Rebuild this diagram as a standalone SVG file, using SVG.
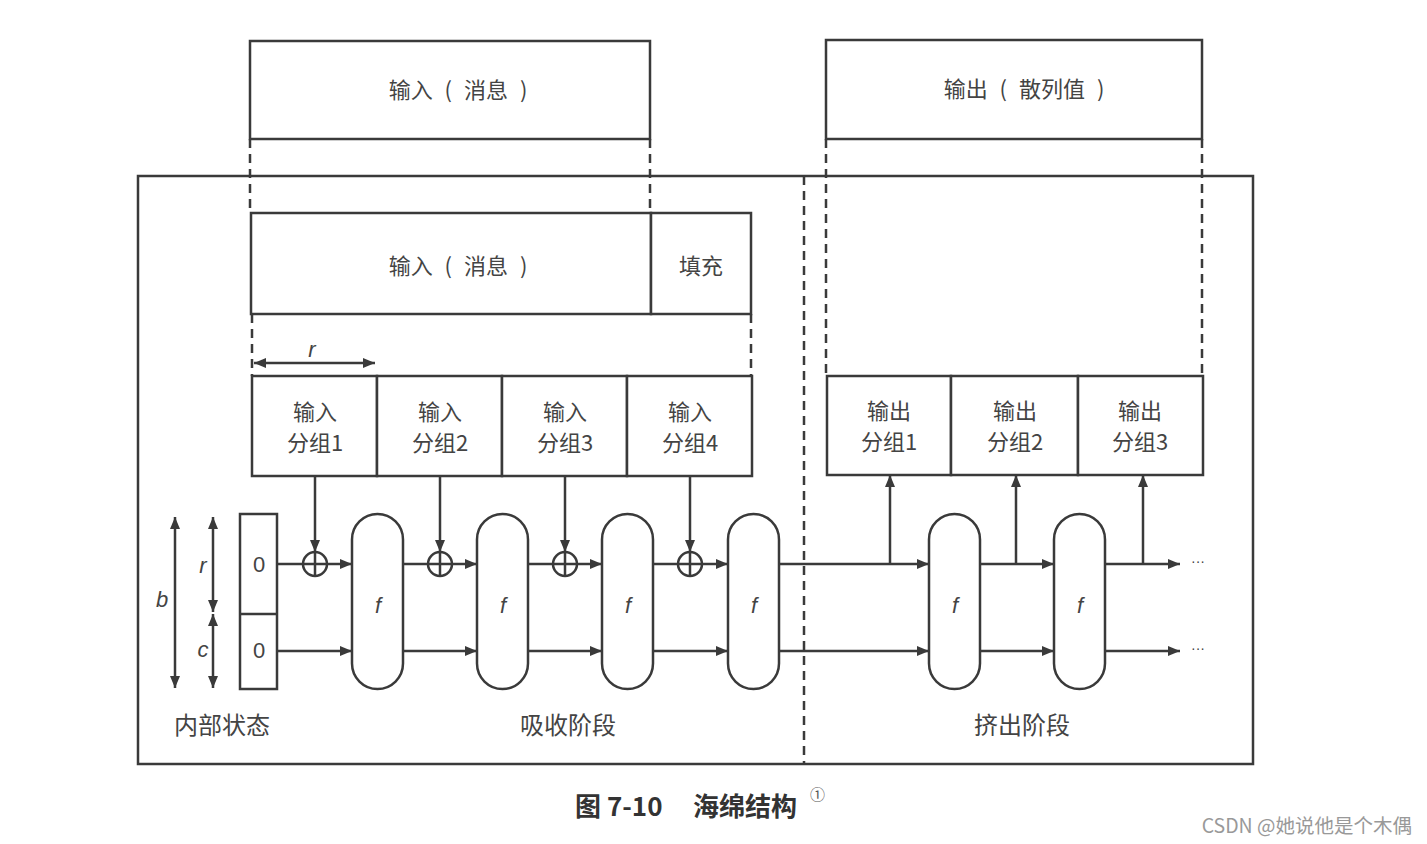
<svg xmlns="http://www.w3.org/2000/svg" width="1427" height="844" viewBox="0 0 1427 844">
<defs>
<marker id="ah" viewBox="0 0 12 10" refX="12" refY="5" markerWidth="12" markerHeight="10" markerUnits="userSpaceOnUse" orient="auto-start-reverse">
<path d="M0,0 L12,5 L0,10 Z" fill="#3a3a3a"/>
</marker>
</defs>
<style>
.ln{stroke:#3a3a3a;stroke-width:2.5;fill:none}
.bx{stroke:#3a3a3a;stroke-width:2.5;fill:#fff}
.ds{stroke:#3a3a3a;stroke-width:2.5;fill:none;stroke-dasharray:9 6}
.t{font-family:"Noto Sans CJK SC","Noto Sans",sans-serif;font-size:22px;fill:#444;text-anchor:middle}
.p{word-spacing:7px}
.it{font-family:"Liberation Sans","Noto Sans",sans-serif;font-size:22px;fill:#444;text-anchor:middle;font-style:italic}
.n{font-family:"Liberation Sans",sans-serif;font-size:22px;fill:#444;text-anchor:middle}
.ar{stroke:#3a3a3a;stroke-width:2.5;fill:none;marker-end:url(#ah)}
.ar2{stroke:#3a3a3a;stroke-width:2.5;fill:none;marker-end:url(#ah);marker-start:url(#ah)}
</style>
<rect width="1427" height="844" fill="#fff"/>

<g id="frame">
<rect x="138" y="176" width="1115" height="588" class="ln"/>
<line x1="804" y1="176" x2="804" y2="764" class="ds"/>
</g>

<g id="input-msg-top">
<rect x="250" y="41" width="400" height="98" class="bx"/>
<text x="458" y="98" class="t p">输入 ( 消息 )</text>
</g>
<g id="output-hash-top">
<rect x="826" y="40" width="376" height="99" class="bx"/>
<text x="1024" y="97" class="t p">输出 ( 散列值 )</text>
</g>

<g id="msg-padded">
<rect x="251" y="213" width="400" height="101" class="bx"/>
<text x="458" y="274" class="t p">输入 ( 消息 )</text>
<rect x="651" y="213" width="100" height="101" class="bx"/>
<text x="701" y="274" class="t">填充</text>
</g>

<g id="input-blocks">
<rect x="252" y="376" width="125" height="100" class="bx"/>
<rect x="377" y="376" width="125" height="100" class="bx"/>
<rect x="502" y="376" width="125" height="100" class="bx"/>
<rect x="627" y="376" width="125" height="100" class="bx"/>
<text x="315" y="420" class="t">输入</text><text x="315" y="451" class="t">分组1</text>
<text x="440" y="420" class="t">输入</text><text x="440" y="451" class="t">分组2</text>
<text x="565" y="420" class="t">输入</text><text x="565" y="451" class="t">分组3</text>
<text x="690" y="420" class="t">输入</text><text x="690" y="451" class="t">分组4</text>
</g>

<g id="output-blocks">
<rect x="827" y="376" width="124" height="99" class="bx"/>
<rect x="951" y="376" width="127" height="99" class="bx"/>
<rect x="1078" y="376" width="125" height="99" class="bx"/>
<text x="889" y="419" class="t">输出</text><text x="889" y="450" class="t">分组1</text>
<text x="1015" y="419" class="t">输出</text><text x="1015" y="450" class="t">分组2</text>
<text x="1140" y="419" class="t">输出</text><text x="1140" y="450" class="t">分组3</text>
</g>

<g id="state">
<rect x="240" y="514" width="37" height="175" class="bx"/>
<line x1="240" y1="614" x2="277" y2="614" class="ln"/>
<text x="259" y="572" class="n">0</text>
<text x="259" y="658" class="n">0</text>
<text x="222" y="734" class="t" style="font-size:24px">内部状态</text>
</g>

<g id="f-boxes">
<rect x="352" y="514" width="51" height="175" rx="25.5" class="bx"/>
<rect x="477" y="514" width="51" height="175" rx="25.5" class="bx"/>
<rect x="602" y="514" width="51" height="175" rx="25.5" class="bx"/>
<rect x="728" y="514" width="51" height="175" rx="25.5" class="bx"/>
<rect x="929" y="514" width="51" height="175" rx="25.5" class="bx"/>
<rect x="1054" y="514" width="51" height="175" rx="25.5" class="bx"/>
<text x="378" y="613" class="it">f</text>
<text x="503" y="613" class="it">f</text>
<text x="628" y="613" class="it">f</text>
<text x="754" y="613" class="it">f</text>
<text x="955" y="613" class="it">f</text>
<text x="1080" y="613" class="it">f</text>
</g>

<g id="xor">
<circle cx="315" cy="564" r="12" class="bx"/><path d="M303,564 H327 M315,552 V576" class="ln"/>
<circle cx="440" cy="564" r="12" class="bx"/><path d="M428,564 H452 M440,552 V576" class="ln"/>
<circle cx="565" cy="564" r="12" class="bx"/><path d="M553,564 H577 M565,552 V576" class="ln"/>
<circle cx="690" cy="564" r="12" class="bx"/><path d="M678,564 H702 M690,552 V576" class="ln"/>
</g>

<g id="labels">
<text x="312" y="357" class="it">r</text>
<text x="162" y="607" class="it">b</text>
<text x="203" y="573" class="it">r</text>
<text x="203" y="657" class="it">c</text>
<text x="568" y="734" class="t" style="font-size:24px">吸收阶段</text>
<text x="1022" y="734" class="t" style="font-size:24px">挤出阶段</text>
<text x="1198" y="566" class="n" style="font-size:14px">···</text>
<text x="1198" y="653" class="n" style="font-size:14px">···</text>
</g>

<g id="connectors">
<line x1="250" y1="139" x2="250" y2="213" class="ds"/>
<line x1="650" y1="139" x2="650" y2="213" class="ds"/>
<line x1="826" y1="139" x2="826" y2="376" class="ds"/>
<line x1="1202" y1="139" x2="1202" y2="376" class="ds"/>
<line x1="252" y1="314" x2="252" y2="376" class="ds"/>
<line x1="751" y1="314" x2="751" y2="376" class="ds"/>
<line x1="254" y1="363" x2="375" y2="363" class="ar2"/>
<line x1="175" y1="517" x2="175" y2="688" class="ar2"/>
<line x1="213" y1="517" x2="213" y2="612" class="ar2"/>
<line x1="213" y1="614" x2="213" y2="688" class="ar2"/>
<line x1="315" y1="476" x2="315" y2="552" class="ar"/>
<line x1="440" y1="476" x2="440" y2="552" class="ar"/>
<line x1="565" y1="476" x2="565" y2="552" class="ar"/>
<line x1="690" y1="476" x2="690" y2="552" class="ar"/>
<line x1="277" y1="564" x2="303" y2="564" class="ln"/>
<line x1="327" y1="564" x2="352" y2="564" class="ar"/>
<line x1="403" y1="564" x2="428" y2="564" class="ln"/>
<line x1="452" y1="564" x2="477" y2="564" class="ar"/>
<line x1="528" y1="564" x2="553" y2="564" class="ln"/>
<line x1="577" y1="564" x2="602" y2="564" class="ar"/>
<line x1="653" y1="564" x2="678" y2="564" class="ln"/>
<line x1="702" y1="564" x2="728" y2="564" class="ar"/>
<line x1="277" y1="651" x2="352" y2="651" class="ar"/>
<line x1="403" y1="651" x2="477" y2="651" class="ar"/>
<line x1="528" y1="651" x2="602" y2="651" class="ar"/>
<line x1="653" y1="651" x2="728" y2="651" class="ar"/>
<line x1="779" y1="564" x2="929" y2="564" class="ar"/>
<line x1="779" y1="651" x2="929" y2="651" class="ar"/>
<line x1="980" y1="564" x2="1054" y2="564" class="ar"/>
<line x1="980" y1="651" x2="1054" y2="651" class="ar"/>
<line x1="1105" y1="564" x2="1180" y2="564" class="ar"/>
<line x1="1105" y1="651" x2="1180" y2="651" class="ar"/>
<line x1="890" y1="564" x2="890" y2="475" class="ar"/>
<line x1="1016" y1="564" x2="1016" y2="475" class="ar"/>
<line x1="1143" y1="564" x2="1143" y2="475" class="ar"/>
</g>

<g id="caption">
<text x="575" y="816" style="font-family:'Noto Sans CJK SC',sans-serif;font-size:26px;font-weight:bold;fill:#333">图 7-10</text>
<text x="693" y="816" style="font-family:'Noto Sans CJK SC',sans-serif;font-size:26px;font-weight:bold;fill:#333">海绵结构</text>
<text x="810" y="800" style="font-family:'Noto Sans CJK SC',sans-serif;font-size:15px;fill:#555">①</text>
</g>
<text x="1412" y="833" style="font-family:'Noto Sans CJK SC',sans-serif;font-size:19.5px;fill:#999;text-anchor:end">CSDN @她说他是个木偶</text>
</svg>
